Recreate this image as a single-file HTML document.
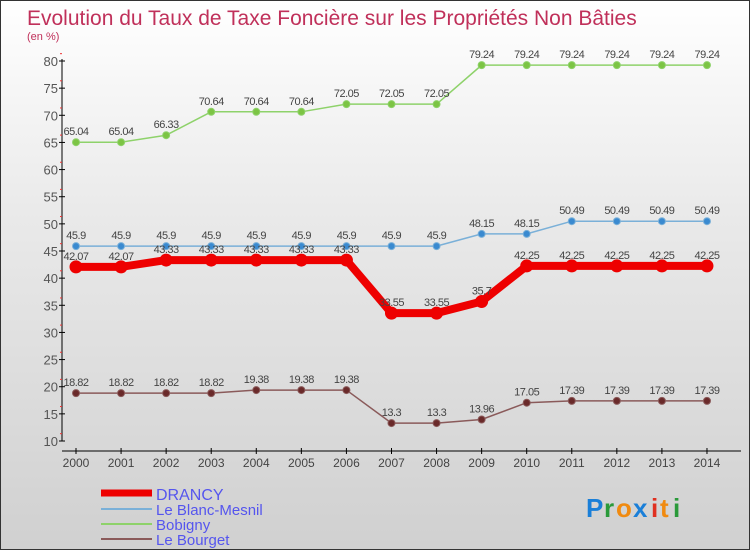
<!DOCTYPE html>
<html><head><meta charset="utf-8"><style>
body{margin:0}
#c{width:748px;height:548px;border:1px solid #333;background:linear-gradient(#fff,#e9e9e9 40%,#d0d0d0);position:relative;font-family:"Liberation Sans",sans-serif;overflow:hidden}
</style></head><body>
<div id="c">
<svg id="s" width="748" height="548" xmlns="http://www.w3.org/2000/svg">
<text x="26" y="24" font-size="21" fill="#c0305a">Evolution du Taux de Taxe Foncière sur les Propriétés Non Bâties</text>
<text x="26" y="39" font-size="11" fill="#c0305a">(en %)</text>
<g id="g"></g>
<g>
<line x1="100" y1="492" x2="151" y2="492" stroke="#e00" stroke-width="7"/>
<text x="155" y="499" font-size="16" fill="#5555ee">DRANCY</text>
<line x1="100" y1="508" x2="151" y2="508" stroke="#7ab0d8" stroke-width="2"/>
<text x="155" y="514" font-size="15" fill="#5555ee">Le Blanc-Mesnil</text>
<line x1="100" y1="523" x2="151" y2="523" stroke="#8ed26a" stroke-width="2"/>
<text x="155" y="529" font-size="15" fill="#5555ee">Bobigny</text>
<line x1="100" y1="538" x2="151" y2="538" stroke="#8a5a5a" stroke-width="2"/>
<text x="155" y="544" font-size="15" fill="#5555ee">Le Bourget</text>
</g>
<g font-size="26" font-weight="bold">
<text x="585" y="516" fill="#1a7fd8">P</text><text x="603" y="516" fill="#2a9a3a">r</text><text x="615" y="516" fill="#f08a10">o</text><text x="632" y="516" fill="#1a7fd8">x</text><text x="650" y="516" fill="#e03020">i</text><text x="659" y="516" fill="#f08a10">t</text><text x="672" y="516" fill="#2a9a3a">i</text>
</g>
</svg></div>
<script>
const years=[2000,2001,2002,2003,2004,2005,2006,2007,2008,2009,2010,2011,2012,2013,2014];
const drancy=[42.07,42.07,43.33,43.33,43.33,43.33,43.33,33.55,33.55,35.7,42.25,42.25,42.25,42.25,42.25];
const blanc=[45.9,45.9,45.9,45.9,45.9,45.9,45.9,45.9,45.9,48.15,48.15,50.49,50.49,50.49,50.49];
const bobigny=[65.04,65.04,66.33,70.64,70.64,70.64,72.05,72.05,72.05,79.24,79.24,79.24,79.24,79.24,79.24];
const bourget=[18.82,18.82,18.82,18.82,19.38,19.38,19.38,13.3,13.3,13.96,17.05,17.39,17.39,17.39,17.39];
const yTicks=[10,15,20,25,30,35,40,45,50,55,60,65,70,75,80];
const NS="http://www.w3.org/2000/svg";
const g=document.getElementById('g');
const xS=i=>75+i*45.07;
const yS=v=>440-(v-10)*380/70;
function mk(t,a,p){const e=document.createElementNS(NS,t);for(const k in a)e.setAttribute(k,a[k]);(p||g).appendChild(e);return e;}
let ax=mk('line',{x1:61,y1:58,x2:61,y2:440,stroke:'#000'});


yTicks.forEach(v=>{const y=yS(v);mk('line',{x1:58,y1:y,x2:64,y2:y,stroke:'#000'});
mk('line',{x1:59,y1:y-2.7*5.43/5*5/2,x2:61,y2:y-2.7*5.43/5*5/2,stroke:'#e33'});
const t=mk('text',{x:57,y:y+5,'font-size':13,fill:'#555','text-anchor':'end'});t.textContent=v;

});
let xa=mk('line',{x1:61,y1:450,x2:740,y2:450,stroke:'#000'});


years.forEach((yr,i)=>{const x=xS(i);mk('line',{x1:x,y1:447,x2:x,y2:453,stroke:'#000'});
const t=mk('text',{x:x,y:466,'font-size':12,fill:'#444','text-anchor':'middle'});t.textContent=yr;

});
function series(d,col,w,r,name,fill){
const gg=mk('g',{});


mk('polyline',{points:d.map((v,i)=>xS(i)+','+yS(v)).join(' '),fill:'none',stroke:col,'stroke-width':w,'stroke-linejoin':'round'},gg);
d.forEach((v,i)=>{const c=mk('circle',{cx:xS(i),cy:yS(v),r:r,fill:fill,stroke:col,'stroke-width':1},gg);


const t=mk('text',{x:xS(i),y:yS(v)-7,'font-size':11,fill:'#444','text-anchor':'middle','letter-spacing':'-0.5'},gg);t.textContent=v;

});}
series(bobigny,'#8ed26a',1.5,3.5,'bobigny','#7cc444');
series(blanc,'#7ab0d8',1.5,3.5,'blanc-mesnil','#3a8ad0');
series(drancy,'#e00',8,6,'drancy','#e00');
series(bourget,'#8a5a5a',1.5,3.5,'bourget','#6a2a2a');
</script>
</body></html>
